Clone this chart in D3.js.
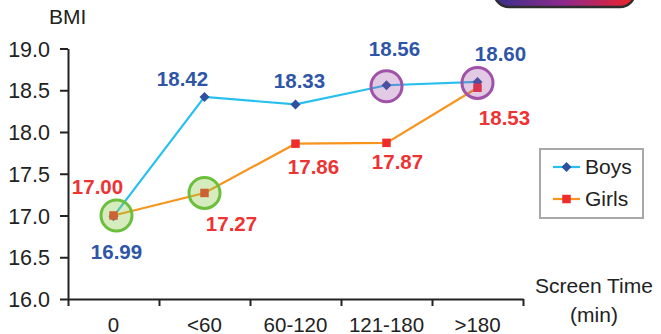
<!DOCTYPE html>
<html>
<head>
<meta charset="utf-8">
<script src="https://cdn.jsdelivr.net/npm/d3@7"></script>
<style>
  html, body { margin: 0; padding: 0; background: #fff; }
  svg { display: block; font-family: "Liberation Sans", Arial, sans-serif; }
</style>
</head>
<body>
<svg id="chart" width="661" height="334"></svg>
<script>
// BMI by daily screen time, boys vs girls
const categories = ["0", "<60", "60-120", "121-180", ">180"];
const boys = [16.99, 18.42, 18.33, 18.56, 18.60];
const girls = [17.00, 17.27, 17.86, 17.87, 18.53];
const yTicks = [16.0, 16.5, 17.0, 17.5, 18.0, 18.5, 19.0];

// value label offsets from each marker (px)
const boysLabelDx = [3, -22, 4, 8, 23];
const boysLabelDy = [35, -18, -24, -36, -28];
const girlsLabelDx = [-16, 27, 18, 11, 27];
const girlsLabelDy = [-29, 31, 23, 19, 30];

// highlighted groups
const greenMarks = [0, 1];   // girls points
const greenDx = [3, 0];
const purpleMarks = [3, 4];  // boys points

const svg = d3.select("#chart");

const x = d3.scaleBand().domain(categories).range([68, 523]).padding(0);
const xEdge = d3.scaleLinear().domain([0, categories.length]).range([68, 523]);
const y = d3.scaleLinear().domain([16, 19]).range([299, 48.5]);

const BOYS_LINE = "#27c0ee", BOYS_MARK = "#2d50a0", BOYS_TEXT = "#2e55a8";
const GIRLS_LINE = "#f7941d", GIRLS_MARK = "#ee2c2c", GIRLS_TEXT = "#ee3333";

// diamond = square turned 45 degrees
const diamond = d3.symbol(d3.symbolSquare, 50);
const square = d3.symbol(d3.symbolSquare, 72);

// decorative banner at the top
const defs = svg.append("defs");
const grad = defs.append("linearGradient").attr("id", "band").attr("x1", "0").attr("x2", "1");
grad.append("stop").attr("offset", "0").attr("stop-color", "#38308a");
grad.append("stop").attr("offset", "0.5").attr("stop-color", "#8e2a8c");
grad.append("stop").attr("offset", "1").attr("stop-color", "#ee2228");
svg.append("rect")
  .attr("x", 494).attr("y", -28).attr("width", 141).attr("height", 35)
  .attr("rx", 15).attr("fill", "url(#band)")
  .attr("stroke", "#2d2d2d").attr("stroke-width", 2.5);

// axes
const yAxis = svg.append("g").attr("transform", "translate(68,0)")
  .call(d3.axisLeft(y).tickValues(yTicks).tickFormat(d3.format(".1f")).tickSize(8).tickSizeOuter(0).tickPadding(10));
const xAxis = svg.append("g").attr("transform", "translate(0,299)")
  .call(d3.axisBottom(xEdge).tickValues(d3.range(categories.length + 1)).tickFormat("").tickSize(7).tickSizeOuter(0));
[yAxis, xAxis].forEach(g => {
  g.select(".domain").attr("stroke", "#222").attr("stroke-width", 2);
  g.selectAll(".tick line").attr("stroke", "#222").attr("stroke-width", 2);
});
yAxis.selectAll(".tick text").attr("font-size", 21.5).attr("fill", "#222")
  .attr("font-family", "Liberation Sans, Arial, sans-serif").attr("dy", "0.35em");

svg.append("g").selectAll("text").data(categories).join("text")
  .attr("x", d => x(d) + x.bandwidth() / 2).attr("y", 331.5)
  .attr("text-anchor", "middle").attr("font-size", 20.5).attr("fill", "#222")
  .text(d => d);

// axis titles
svg.append("text").attr("x", 49).attr("y", 24).attr("font-size", 21).attr("fill", "#222").text("BMI");
svg.append("text").attr("x", 594).attr("y", 293).attr("text-anchor", "middle")
  .attr("font-size", 21).attr("fill", "#222").text("Screen Time");
svg.append("text").attr("x", 594).attr("y", 322).attr("text-anchor", "middle")
  .attr("font-size", 21).attr("fill", "#222").text("(min)");

const cx = i => x(categories[i]) + x.bandwidth() / 2;
const line = d3.line().x((d, i) => cx(i)).y(d => y(d));

// series lines
svg.append("path").datum(boys).attr("d", line).attr("fill", "none")
  .attr("stroke", BOYS_LINE).attr("stroke-width", 2.2);
svg.append("path").datum(girls).attr("d", line).attr("fill", "none")
  .attr("stroke", GIRLS_LINE).attr("stroke-width", 2.2);

// markers
svg.append("g").selectAll("path").data(boys).join("path")
  .attr("transform", (d, i) => `translate(${cx(i)},${y(d)}) rotate(45)`)
  .attr("d", diamond).attr("fill", BOYS_MARK);
svg.append("g").selectAll("path").data(girls).join("path")
  .attr("transform", (d, i) => `translate(${cx(i)},${y(d)})`)
  .attr("d", square).attr("fill", GIRLS_MARK);

// highlight circles
svg.append("g").selectAll("circle").data(greenMarks).join("circle")
  .attr("cx", (i, k) => cx(i) + greenDx[k]).attr("cy", i => y(girls[i]))
  .attr("r", 15.5).attr("fill", "rgba(140,200,70,0.35)")
  .attr("stroke", "#6cbf3c").attr("stroke-width", 3);
svg.append("g").selectAll("circle").data(purpleMarks).join("circle")
  .attr("cx", i => cx(i)).attr("cy", i => y(boys[i]) + 1)
  .attr("r", 15.5).attr("fill", "rgba(160,80,170,0.3)")
  .attr("stroke", "#a052a8").attr("stroke-width", 3);

// value labels
svg.append("g").selectAll("text").data(boys).join("text")
  .attr("x", (d, i) => cx(i) + boysLabelDx[i]).attr("y", (d, i) => y(d) + boysLabelDy[i])
  .attr("dy", "0.35em").attr("text-anchor", "middle")
  .attr("font-size", 20.5).attr("font-weight", "bold").attr("fill", BOYS_TEXT)
  .text(d => d.toFixed(2));
svg.append("g").selectAll("text").data(girls).join("text")
  .attr("x", (d, i) => cx(i) + girlsLabelDx[i]).attr("y", (d, i) => y(d) + girlsLabelDy[i])
  .attr("dy", "0.35em").attr("text-anchor", "middle")
  .attr("font-size", 20.5).attr("font-weight", "bold").attr("fill", GIRLS_TEXT)
  .text(d => d.toFixed(2));

// legend
const legend = svg.append("g");
legend.append("rect").attr("x", 540).attr("y", 149).attr("width", 103).attr("height", 69)
  .attr("fill", "#fff").attr("stroke", "#a8a8a8").attr("stroke-width", 2);
const legendItems = [
  { name: "Boys", line: BOYS_LINE, mark: BOYS_MARK, sym: diamond, rot: 45 },
  { name: "Girls", line: GIRLS_LINE, mark: GIRLS_MARK, sym: square, rot: 0 }
];
legendItems.forEach((it, k) => {
  const ly = 167 + k * 32;
  legend.append("line").attr("x1", 553).attr("x2", 580).attr("y1", ly).attr("y2", ly)
    .attr("stroke", it.line).attr("stroke-width", 2.2);
  legend.append("path").attr("transform", `translate(566.5,${ly}) rotate(${it.rot})`)
    .attr("d", it.sym).attr("fill", it.mark);
  legend.append("text").attr("x", 585).attr("y", ly).attr("dy", "0.35em")
    .attr("font-size", 21).attr("fill", "#222").text(it.name);
});
</script>
</body>
</html>
